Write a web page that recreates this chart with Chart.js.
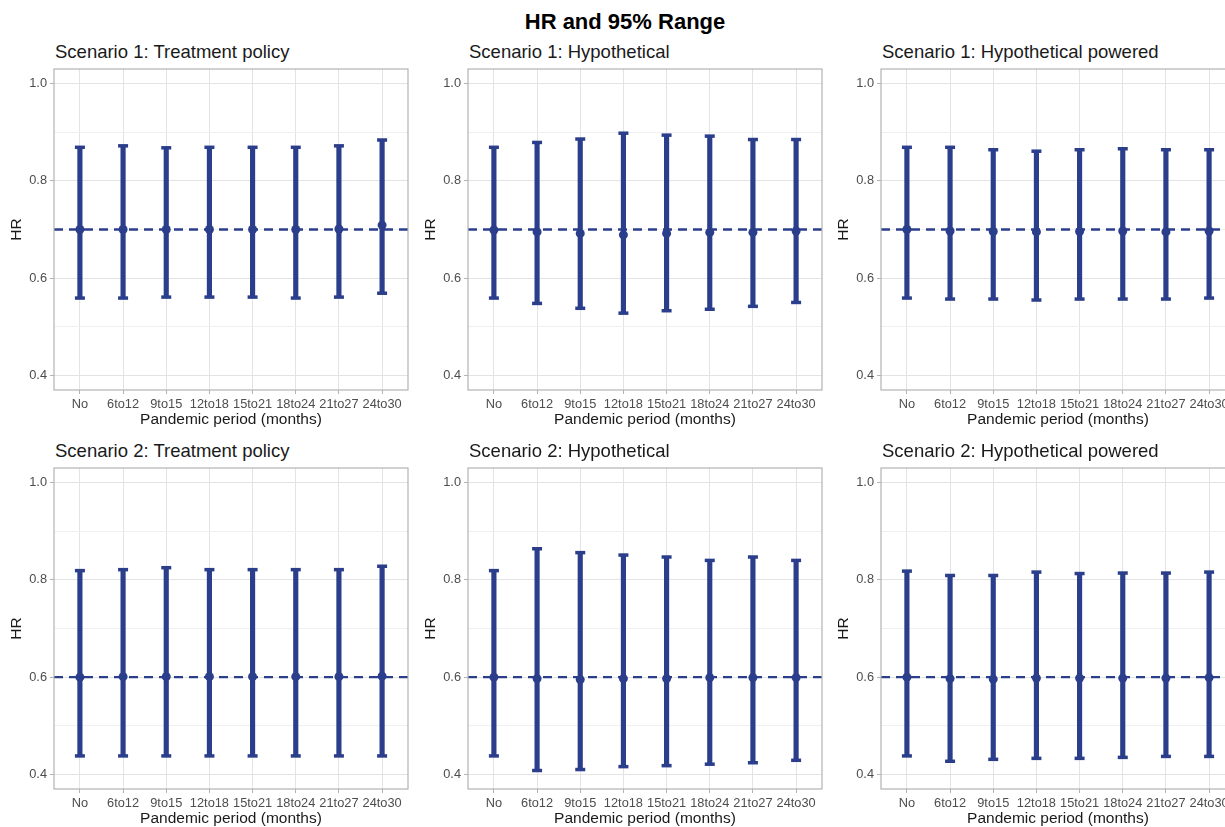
<!DOCTYPE html>
<html>
<head>
<meta charset="utf-8">
<script src="https://cdn.jsdelivr.net/npm/chart.js@4.4.1/dist/chart.umd.min.js"></script>
<style>
  html, body { margin: 0; padding: 0; background: #ffffff; }
  body { width: 1225px; height: 827px; overflow: hidden; position: relative;
         font-family: "Liberation Sans", Arial, sans-serif; }
  .main-title { position: absolute; left: 0; width: 1250px; top: 11px; text-align: center;
                font-size: 22px; line-height: 22px; font-weight: bold; color: #000; }
  .panel-title { position: absolute; font-size: 18.5px; line-height: 18.5px; color: #1a1a1a; white-space: nowrap; }
  canvas { position: absolute; }
</style>
</head>
<body>
<div class="main-title">HR and 95% Range</div>

<script>
// Pandemic periods on the x axis
const categories = ['No', '6to12', '9to15', '12to18', '15to21', '18to24', '21to27', '24to30'];
const yTickValues = [0.4, 0.5, 0.6, 0.7, 0.8, 0.9, 1.0];

// Scenario 1 (true HR 0.7)
const s1Ref = 0.7;
const s1TreatEst = [0.700, 0.700, 0.700, 0.700, 0.700, 0.700, 0.701, 0.709];
const s1TreatLo  = [0.559, 0.559, 0.561, 0.561, 0.561, 0.559, 0.561, 0.569];
const s1TreatHi  = [0.869, 0.872, 0.868, 0.869, 0.869, 0.869, 0.872, 0.884];

const s1HypEst = [0.699, 0.695, 0.692, 0.689, 0.692, 0.694, 0.694, 0.697];
const s1HypLo  = [0.559, 0.548, 0.538, 0.528, 0.533, 0.536, 0.542, 0.550];
const s1HypHi  = [0.869, 0.879, 0.886, 0.898, 0.894, 0.892, 0.885, 0.885];

const s1PowEst = [0.700, 0.697, 0.696, 0.695, 0.696, 0.697, 0.695, 0.697];
const s1PowLo  = [0.559, 0.557, 0.557, 0.555, 0.557, 0.557, 0.557, 0.559];
const s1PowHi  = [0.869, 0.869, 0.864, 0.861, 0.864, 0.866, 0.864, 0.864];

// Scenario 2 (true HR 0.6)
const s2Ref = 0.6;
const s2TreatEst = [0.600, 0.601, 0.601, 0.601, 0.601, 0.601, 0.601, 0.602];
const s2TreatLo  = [0.438, 0.438, 0.438, 0.438, 0.438, 0.438, 0.438, 0.438];
const s2TreatHi  = [0.819, 0.821, 0.825, 0.821, 0.821, 0.821, 0.821, 0.828];

const s2HypEst = [0.600, 0.597, 0.595, 0.597, 0.597, 0.599, 0.599, 0.599];
const s2HypLo  = [0.438, 0.408, 0.410, 0.416, 0.418, 0.421, 0.424, 0.429];
const s2HypHi  = [0.819, 0.864, 0.856, 0.851, 0.847, 0.840, 0.847, 0.840];

const s2PowEst = [0.600, 0.597, 0.596, 0.598, 0.598, 0.598, 0.598, 0.599];
const s2PowLo  = [0.438, 0.427, 0.431, 0.433, 0.433, 0.435, 0.437, 0.437];
const s2PowHi  = [0.818, 0.809, 0.809, 0.816, 0.813, 0.814, 0.814, 0.816];

const panels = [
  { title: 'Scenario 1: Treatment policy',       est: s1TreatEst, lo: s1TreatLo, hi: s1TreatHi, ref: s1Ref, col: 0, row: 0 },
  { title: 'Scenario 1: Hypothetical',           est: s1HypEst,   lo: s1HypLo,   hi: s1HypHi,   ref: s1Ref, col: 1, row: 0 },
  { title: 'Scenario 1: Hypothetical powered',   est: s1PowEst,   lo: s1PowLo,   hi: s1PowHi,   ref: s1Ref, col: 2, row: 0 },
  { title: 'Scenario 2: Treatment policy',       est: s2TreatEst, lo: s2TreatLo, hi: s2TreatHi, ref: s2Ref, col: 0, row: 1 },
  { title: 'Scenario 2: Hypothetical',           est: s2HypEst,   lo: s2HypLo,   hi: s2HypHi,   ref: s2Ref, col: 1, row: 1 },
  { title: 'Scenario 2: Hypothetical powered',   est: s2PowEst,   lo: s2PowLo,   hi: s2PowHi,   ref: s2Ref, col: 2, row: 1 }
];

// Layout of the facet grid
const AREA_LEFT = [54, 468, 881];
const AREA_TOP = [69, 468];
const AREA_W = 354, AREA_H = 321;
// top/right padding must exceed the point overflow Chart.js reserves (~8.5px)
const Y_AXIS_W = 54, X_AXIS_H = 39, PAD_TOP = 10, PAD_RIGHT = 10;

const BLUE = '#2b3e8c';
const FONT = '"Liberation Sans", Arial, sans-serif';

Chart.defaults.font.family = FONT;
Chart.defaults.color = '#4d4d4d';

// Panel frame drawn on top, like a light ggplot theme
const panelBorder = {
  id: 'panelBorder',
  afterDraw(chart) {
    const a = chart.chartArea, ctx = chart.ctx;
    ctx.save();
    ctx.strokeStyle = '#b3b3b3';
    ctx.lineWidth = 1.2;
    ctx.strokeRect(a.left, a.top, a.right - a.left, a.bottom - a.top);
    ctx.restore();
  }
};

const isMinor = v => Math.round(v * 10) % 2 === 1;

panels.forEach(p => {
  const left = AREA_LEFT[p.col], top = AREA_TOP[p.row];

  const t = document.createElement('div');
  t.className = 'panel-title';
  t.textContent = p.title;
  t.style.left = (left + 1) + 'px';
  t.style.top = (top - 26) + 'px';
  document.body.appendChild(t);

  const canvas = document.createElement('canvas');
  const cw = Y_AXIS_W + AREA_W + PAD_RIGHT, ch = PAD_TOP + AREA_H + X_AXIS_H;
  canvas.width = cw; canvas.height = ch;
  canvas.style.width = cw + 'px'; canvas.style.height = ch + 'px';
  canvas.style.left = (left - Y_AXIS_W) + 'px';
  canvas.style.top = (top - PAD_TOP) + 'px';
  document.body.appendChild(canvas);

  const xs = categories.map((_, i) => i);

  new Chart(canvas, {
    type: 'bar',
    data: {
      datasets: [
        {
          type: 'scatter', order: 1,
          data: xs.map(i => ({ x: i, y: p.est[i] })),
          pointStyle: 'circle', pointRadius: 4.5, pointHoverRadius: 4.5,
          backgroundColor: BLUE, borderWidth: 0
        },
        {
          type: 'line', order: 2,
          data: [{ x: -0.6, y: p.ref }, { x: 7.6, y: p.ref }],
          borderColor: BLUE, borderWidth: 2.3, borderDash: [9, 6],
          pointRadius: 0, fill: false
        },
        {
          type: 'scatter', order: 3,
          data: xs.map(i => ({ x: i, y: p.lo[i] })).concat(xs.map(i => ({ x: i, y: p.hi[i] }))),
          pointStyle: 'line', pointRadius: 5, pointHoverRadius: 5,
          borderColor: BLUE, borderWidth: 3.5
        },
        {
          type: 'bar', order: 4,
          data: xs.map(i => ({ x: i, y: [p.lo[i], p.hi[i]] })),
          backgroundColor: BLUE, borderWidth: 0, barThickness: 4.5, grouped: false
        }
      ]
    },
    options: {
      responsive: false,
      animation: false,
      events: [],
      layout: { padding: { top: PAD_TOP, right: PAD_RIGHT, left: 0, bottom: 0 } },
      plugins: { legend: { display: false }, tooltip: { enabled: false }, title: { display: false } },
      scales: {
        x: {
          type: 'linear', min: -0.6, max: 7.6, offset: false,
          afterBuildTicks: s => { s.ticks = xs.map(v => ({ value: v })); },
          afterFit: s => { s.height = X_AXIS_H; s.paddingLeft = 0; s.paddingRight = 0; },
          ticks: {
            callback: v => categories[v],
            autoSkip: false, maxRotation: 0, minRotation: 0,
            padding: 3, color: '#4d4d4d', font: { size: 12.8, family: FONT }
          },
          grid: { color: '#e3e3e3', lineWidth: 1, tickLength: 4, tickColor: '#b3b3b3', offset: false },
          border: { display: false },
          title: {
            display: true, text: 'Pandemic period (months)', color: '#1a1a1a',
            font: { size: 15.5, family: FONT }, padding: { top: 0, bottom: 0 }
          }
        },
        y: {
          type: 'linear', min: 0.37, max: 1.03,
          afterBuildTicks: s => { s.ticks = yTickValues.map(v => ({ value: v })); },
          afterFit: s => { s.width = Y_AXIS_W; s.paddingTop = 0; s.paddingBottom = 0; },
          ticks: {
            callback: v => isMinor(v) ? '' : v.toFixed(1),
            padding: 3, color: '#4d4d4d', font: { size: 12.8, family: FONT }
          },
          grid: {
            color: c => isMinor(c.tick.value) ? '#f0f0f0' : '#e3e3e3',
            lineWidth: 1, tickLength: 4,
            tickColor: c => isMinor(c.tick.value) ? 'rgba(0,0,0,0)' : '#b3b3b3'
          },
          border: { display: false },
          title: {
            display: true, text: 'HR', color: '#1a1a1a',
            font: { size: 15.5, family: FONT }, padding: { top: 7, bottom: 0 }
          }
        }
      }
    },
    plugins: [panelBorder]
  });
});
</script>
</body>
</html>
